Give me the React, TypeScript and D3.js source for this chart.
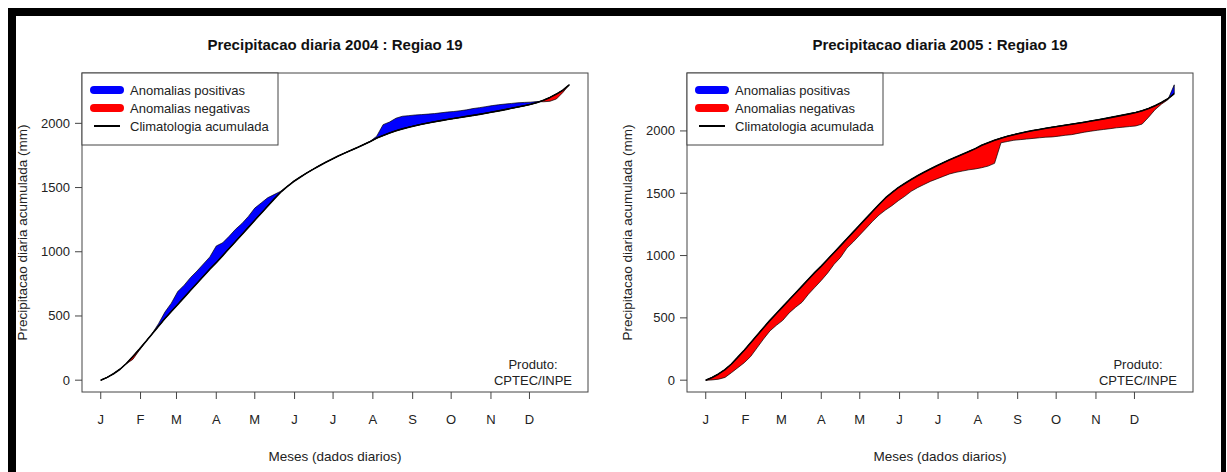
import React from 'react';
import * as d3 from 'd3';

// Day of year for each accumulated value (pentad steps)
const DAYS = [
  1, 6, 11, 16, 21, 26, 31, 36, 41, 46, 51, 56, 61, 66, 71, 76, 81, 86, 91, 96,
  101, 106, 111, 116, 121, 126, 131, 136, 141, 146, 151, 156, 161, 166, 171, 176, 181, 186, 191, 196,
  201, 206, 211, 216, 221, 226, 231, 236, 241, 246, 251, 256, 261, 266, 271, 276, 281, 286, 291, 296,
  301, 306, 311, 316, 321, 326, 331, 336, 341, 346, 351, 356, 361, 366,
];

// Accumulated climatology (mm), Regiao 19
const CLIMATOLOGIA = [
  0, 22, 50, 85, 130, 185, 240, 300, 360, 420, 480, 535, 590, 645, 700, 755, 810, 865, 915, 970,
  1025, 1080, 1135, 1190, 1245, 1300, 1355, 1410, 1462, 1505, 1545, 1578, 1610, 1640, 1668, 1695, 1720, 1745, 1768, 1790,
  1812, 1835, 1858, 1885, 1905, 1925, 1942, 1957, 1970, 1982, 1993, 2003, 2012, 2021, 2030, 2038, 2046, 2054, 2062, 2070,
  2079, 2088, 2097, 2107, 2117, 2127, 2137, 2148, 2162, 2180, 2202, 2228, 2258, 2300,
];

// Accumulated observed precipitation 2004 (mm)
const PREC_2004 = [
  0, 20, 52, 88, 128, 162, 232, 300, 362, 440, 530, 600, 690, 740, 800, 850, 905, 960, 1045, 1070,
  1120, 1175, 1220, 1275, 1340, 1380, 1420, 1445, 1470, 1508, 1548, 1580, 1612, 1640, 1670, 1697, 1720, 1746, 1770, 1790,
  1812, 1836, 1860, 1900, 1990, 2010, 2040, 2055, 2060, 2065, 2068, 2072, 2076, 2082, 2088, 2092, 2098, 2105, 2115, 2122,
  2130, 2138, 2145, 2150, 2155, 2160, 2163, 2165, 2170, 2168, 2172, 2190, 2240, 2300,
];

// Accumulated observed precipitation 2005 (mm)
const PREC_2005 = [
  0, 2, 8, 22, 60, 100, 140, 190, 260, 330, 395, 440, 480, 540, 585, 625, 690, 745, 800, 860,
  930, 985, 1060, 1110, 1165, 1220, 1275, 1325, 1365, 1400, 1440, 1475, 1515, 1545, 1570, 1595, 1615, 1635, 1655, 1668,
  1678, 1688, 1695, 1705, 1718, 1740, 1905, 1915, 1925, 1930, 1935, 1940, 1945, 1950, 1952, 1958, 1965, 1970, 1980, 1990,
  1998, 2005, 2012, 2018, 2025, 2030, 2035, 2040, 2055, 2110, 2170, 2215, 2250, 2370,
];

const MONTH_LABELS = ['J', 'F', 'M', 'A', 'M', 'J', 'J', 'A', 'S', 'O', 'N', 'D'];
const MONTH_DAYS = [1, 32, 60, 91, 121, 152, 182, 213, 244, 274, 305, 335];
const Y_TICKS = [0, 500, 1000, 1500, 2000];
const LEGEND_LABELS = ['Anomalias positivas', 'Anomalias negativas', 'Climatologia acumulada'];

const FONT = '"Liberation Sans", Arial, Helvetica, sans-serif';
const BLUE = '#0000ff';
const RED = '#ff0000';

type Row = { d: number; c: number; o: number };

// Add the crossing points where observed and climatology swap order
function withCrossings(days: number[], clim: number[], obs: number[]): Row[] {
  const out: Row[] = [];
  for (let i = 0; i < days.length; i++) {
    if (i > 0) {
      const a = obs[i - 1] - clim[i - 1];
      const b = obs[i] - clim[i];
      if (a * b < 0) {
        const t = a / (a - b);
        const d = days[i - 1] + t * (days[i] - days[i - 1]);
        const c = clim[i - 1] + t * (clim[i] - clim[i - 1]);
        out.push({ d, c, o: c });
      }
    }
    out.push({ d: days[i], c: clim[i], o: obs[i] });
  }
  return out;
}

type PanelProps = {
  left: number;
  right: number;
  top: number;
  bottom: number;
  title: string;
  obs: number[];
};

function Panel({ left, right, top, bottom, title, obs }: PanelProps) {
  const [d0, d1] = d3.extent(DAYS) as [number, number];
  const dr = d1 - d0;
  const x = d3.scaleLinear().domain([d0 - 0.04 * dr, d1 + 0.04 * dr]).range([left, right]);
  const [v0, v1] = d3.extent(CLIMATOLOGIA.concat(obs)) as [number, number];
  const vr = v1 - v0;
  const y = d3.scaleLinear().domain([v0 - 0.04 * vr, v1 + 0.04 * vr]).range([bottom, top]);

  const rows = withCrossings(DAYS, CLIMATOLOGIA, obs);
  const posArea = d3
    .area<Row>()
    .x((r) => x(r.d))
    .y0((r) => y(r.c))
    .y1((r) => y(Math.max(r.o, r.c)));
  const negArea = d3
    .area<Row>()
    .x((r) => x(r.d))
    .y0((r) => y(r.c))
    .y1((r) => y(Math.min(r.o, r.c)));
  const climLine = d3
    .line<number>()
    .x((_, i) => x(DAYS[i]))
    .y((v) => y(v));

  const cx = (left + right) / 2;
  const legW = 196;
  const legH = 72;
  const rowY = [top + 17, top + 35, top + 53];

  return (
    <g>
      <text x={cx} y={50} textAnchor="middle" fontFamily={FONT} fontWeight="bold" fontSize={15} fill="#111">
        {title}
      </text>

      {/* anomaly polygons */}
      <path d={posArea(rows) || ''} fill={BLUE} stroke="#000" strokeWidth={0.7} strokeLinejoin="round" />
      <path d={negArea(rows) || ''} fill={RED} stroke="#000" strokeWidth={0.7} strokeLinejoin="round" />
      <path d={climLine(CLIMATOLOGIA) || ''} fill="none" stroke="#000" strokeWidth={1.6} strokeLinejoin="round" />

      {/* plot frame */}
      <rect x={left} y={top} width={right - left} height={bottom - top} fill="none" stroke="#444" strokeWidth={1} />

      {/* y axis */}
      {Y_TICKS.map((v) => (
        <g key={v}>
          <line x1={left - 7} x2={left} y1={y(v)} y2={y(v)} stroke="#444" strokeWidth={1} />
          <text x={left - 12} y={y(v) + 4.5} textAnchor="end" fontFamily={FONT} fontSize={13} fill="#222">
            {v}
          </text>
        </g>
      ))}
      <text
        transform={`translate(${left - 55},${(top + bottom) / 2}) rotate(-90)`}
        textAnchor="middle"
        fontFamily={FONT}
        fontSize={13.5}
        fill="#222"
      >
        Precipitacao diaria acumulada (mm)
      </text>

      {/* x axis */}
      {MONTH_DAYS.map((d, i) => (
        <g key={i}>
          <line x1={x(d)} x2={x(d)} y1={bottom} y2={bottom + 7} stroke="#444" strokeWidth={1} />
          <text x={x(d)} y={bottom + 32} textAnchor="middle" fontFamily={FONT} fontSize={13} fill="#222">
            {MONTH_LABELS[i]}
          </text>
        </g>
      ))}
      <text x={cx} y={bottom + 69} textAnchor="middle" fontFamily={FONT} fontSize={13.5} fill="#222">
        Meses (dados diarios)
      </text>

      {/* legend */}
      <rect x={left} y={top} width={legW} height={legH} fill="#fff" stroke="#444" strokeWidth={1} />
      <line x1={left + 12} x2={left + 38} y1={rowY[0]} y2={rowY[0]} stroke={BLUE} strokeWidth={8} strokeLinecap="round" />
      <line x1={left + 12} x2={left + 38} y1={rowY[1]} y2={rowY[1]} stroke={RED} strokeWidth={8} strokeLinecap="round" />
      <line x1={left + 12} x2={left + 38} y1={rowY[2]} y2={rowY[2]} stroke="#000" strokeWidth={2} />
      {LEGEND_LABELS.map((t, i) => (
        <text key={t} x={left + 48} y={rowY[i] + 4.5} fontFamily={FONT} fontSize={13} fill="#222">
          {t}
        </text>
      ))}

      {/* product credit */}
      <text x={right - 55} y={bottom - 23} textAnchor="middle" fontFamily={FONT} fontSize={13} fill="#222">
        Produto:
      </text>
      <text x={right - 55} y={bottom - 7} textAnchor="middle" fontFamily={FONT} fontSize={13} fill="#222">
        CPTEC/INPE
      </text>
    </g>
  );
}

export default function App() {
  return (
    <svg
      width={1227}
      height={472}
      viewBox="0 0 1227 472"
      style={{ position: 'absolute', left: 0, top: 0, background: '#fff' }}
    >
      {/* black frame */}
      <rect x={8} y={8} width={1218} height={464} fill="#000" />
      <rect x={16} y={16} width={1205} height={456} fill="#fff" />

      <Panel left={82} right={588} top={73} bottom={392} title="Precipitacao diaria 2004 : Regiao 19" obs={PREC_2004} />
      <Panel left={687} right={1193} top={73} bottom={392} title="Precipitacao diaria 2005 : Regiao 19" obs={PREC_2005} />
    </svg>
  );
}
